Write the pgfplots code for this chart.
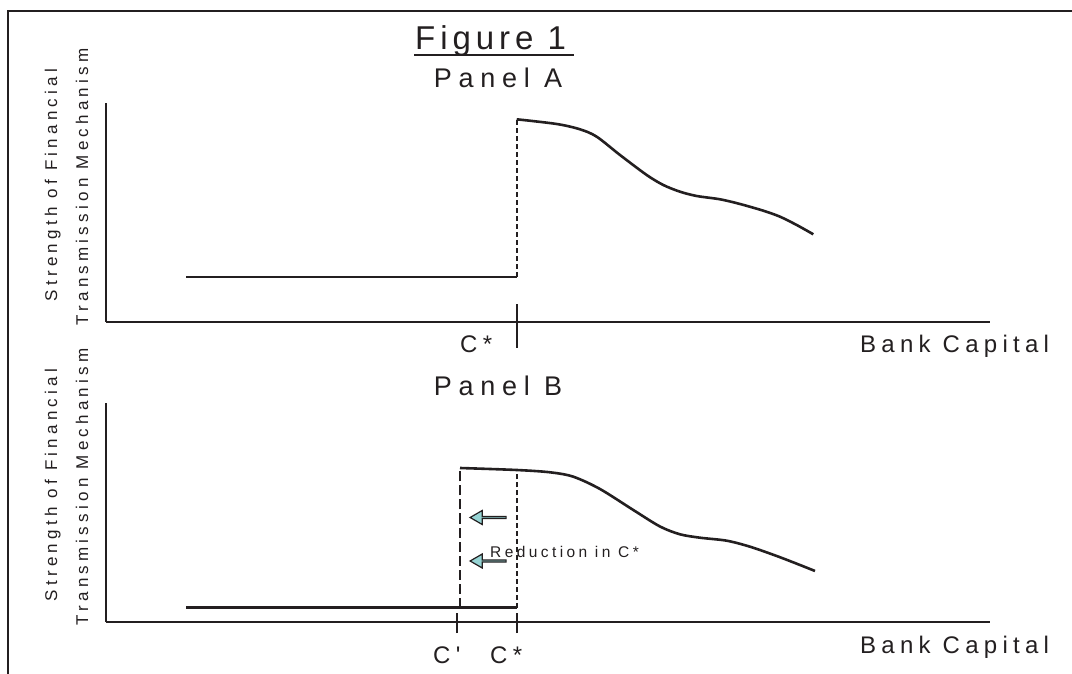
\documentclass[border=0pt]{standalone}
\usepackage{fontspec}
\setmainfont{Liberation Sans}
\newfontfamily\ls[LetterSpace=22]{Liberation Sans}
\newfontfamily\lsw[LetterSpace=25]{Liberation Sans}
\newfontfamily\lst[LetterSpace=15]{Liberation Sans}
\usepackage{pgfplots}
\pgfplotsset{compat=1.18}
\usetikzlibrary{shapes.arrows}
\definecolor{ink}{RGB}{35,31,32}
\definecolor{arrowfill}{RGB}{150,212,212}

\pgfplotsset{
  panel/.style={
    scale only axis, width=884pt, height=219pt,
    xmin=0, xmax=884, ymin=0, ymax=219,
    axis x line=bottom, axis y line=left,
    axis line style={line width=2.4pt, ink, -},
    ticks=none, clip=false,
  },
  curve/.style={ink, line width=2.6pt, smooth, no marks},
}
\tikzset{
  arr/.style={single arrow, shape border rotate=180, draw=ink, fill=arrowfill,
    line width=1.2pt, minimum height=36pt, minimum width=14pt,
    single arrow head extend=3.5pt, single arrow tip angle=60, inner sep=0pt},
}

\begin{document}
\begin{tikzpicture}[x=1pt,y=1pt]
\path[use as bounding box] (0,0) rectangle (1072,673);

% frame (cut off at right and bottom)
\draw[ink, line width=2.4pt] (8,-5) -- (8,662) -- (1080,662);

% titles
\node[ink, anchor=base west, inner sep=0] (title) at (415,623) {\fontsize{33}{38}\selectfont\lst Figure 1};
\draw[ink, line width=2.6pt] ([yshift=-5pt,xshift=-1pt]title.base west) -- ([yshift=-5pt,xshift=8pt]title.base east);
\node[ink, anchor=base, inner sep=0] at (498,585) {\fontsize{27}{32}\selectfont\lsw Panel A};
\node[ink, anchor=base, inner sep=0] at (498,277) {\fontsize{27}{32}\selectfont\lsw Panel B};

% y labels
\node[ink, rotate=90, anchor=base, inner sep=0] at (57,188) {\fontsize{17}{20}\selectfont\lsw Strength of Financial};
\node[ink, rotate=90, anchor=base, inner sep=0] at (88,186) {\fontsize{17}{20}\selectfont\lsw Transmission Mechanism};
\node[ink, rotate=90, anchor=base, inner sep=0] at (57,488) {\fontsize{17}{20}\selectfont\lsw Strength of Financial};
\node[ink, rotate=90, anchor=base, inner sep=0] at (88,486) {\fontsize{17}{20}\selectfont\lsw Transmission Mechanism};

% ---------------- Panel A ----------------
\begin{axis}[panel, at={(106,351)}, anchor=south west]
  \addplot[ink, line width=2.6pt] coordinates {(80,45) (411,45)};
  \addplot[ink, line width=2.6pt, dash pattern=on 5pt off 3pt] coordinates {(411,45) (411,203)};
  \addplot[curve] coordinates {
    (410.7,202.7) (450.7,198) (474,192.7) (490.7,185.3) (514,167)
    (540.7,147) (557.3,137) (574,130.3) (590.7,126) (614,122.7)
    (634,118) (657.3,111.3) (674,105.3) (690.7,97) (707.3,87.7)
  };
  \addplot[ink, line width=2.4pt] coordinates {(411,-26) (411,18)};
  \node[ink, anchor=base west, inner sep=0] at (axis cs:354,-31) {\fontsize{24}{28}\selectfont\ls C*};
  \node[ink, anchor=base west, inner sep=0] at (axis cs:754,-31) {\fontsize{24}{28}\selectfont\ls Bank Capital};
\end{axis}

% ---------------- Panel B ----------------
\begin{axis}[panel, at={(106,51)}, anchor=south west]
  \addplot[ink, line width=2.6pt] coordinates {(80,14.5) (411,14.5)};
  \addplot[ink, line width=2.6pt, dash pattern=on 10pt off 4pt] coordinates {(354,14.5) (354,154)};
  \addplot[ink, line width=2.6pt, dash pattern=on 5pt off 3pt] coordinates {(411,14.5) (411,152)};
  \addplot[curve] coordinates {
    (354,154) (410.7,152) (444,149.7) (467.3,145.3) (494,133)
    (527.3,112) (554,95.5) (574,87.7) (594,84.3) (620.7,81.3)
    (644,75.3) (670.7,66) (694,57) (709,51)
  };
  \addplot[ink, line width=2.4pt] coordinates {(350.7,-11) (350.7,9)};
  \addplot[ink, line width=2.4pt] coordinates {(411,-11) (411,9)};
  \node[arr] at (axis cs:383,104.5) {};
  \node[arr] at (axis cs:383,61) {};
  \node[ink, anchor=base west, inner sep=0] at (axis cs:384,65) {\fontsize{15.5}{18}\selectfont\ls Reduction in C*};
  \node[ink, anchor=base west, inner sep=0] at (axis cs:327,-41) {\fontsize{24}{28}\selectfont\ls C'};
  \node[ink, anchor=base west, inner sep=0] at (axis cs:384,-41) {\fontsize{24}{28}\selectfont\ls C*};
  \node[ink, anchor=base west, inner sep=0] at (axis cs:754,-31) {\fontsize{24}{28}\selectfont\ls Bank Capital};
\end{axis}
\end{tikzpicture}
\end{document}
